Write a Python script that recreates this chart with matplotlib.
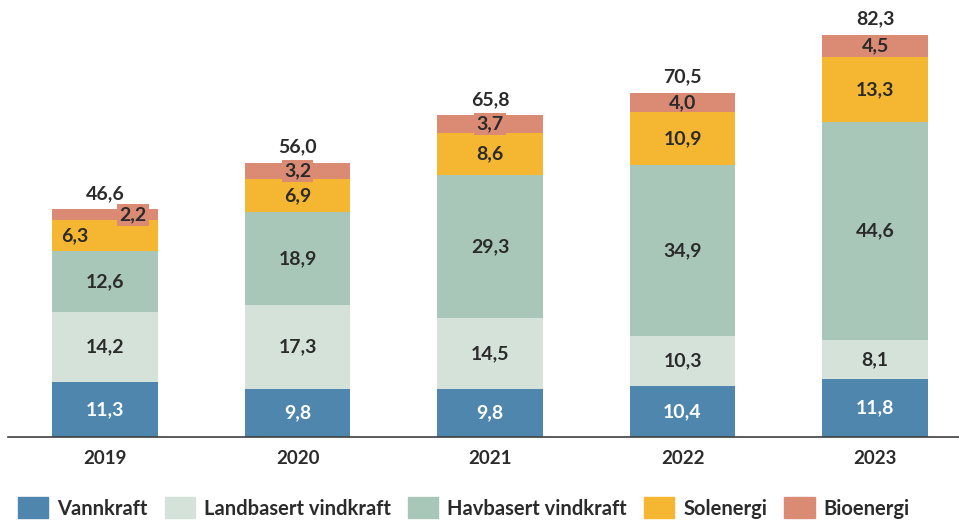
import numpy as np
from matplotlib import pyplot as plt
from matplotlib import patches as mpatches

plt.rcParams['font.family'] = ['Lato', 'DejaVu Sans']

years = ['2019', '2020', '2021', '2022', '2023']
vannkraft = [11.3, 9.8, 9.8, 10.4, 11.8]
landbasert = [14.2, 17.3, 14.5, 10.3, 8.1]
havbasert = [12.6, 18.9, 29.3, 34.9, 44.6]
solenergi = [6.3, 6.9, 8.6, 10.9, 13.3]
bioenergi = [2.2, 3.2, 3.7, 4.0, 4.5]
totals = [46.6, 56.0, 65.8, 70.5, 82.3]

names = ['Vannkraft', 'Landbasert vindkraft', 'Havbasert vindkraft', 'Solenergi', 'Bioenergi']
colors = ['#4F86AE', '#D5E2DA', '#A8C7B9', '#F5B631', '#DB8B74']
text_colors = ['white', '#2b2b2b', '#2b2b2b', '#2b2b2b', '#2b2b2b']
series = [vannkraft, landbasert, havbasert, solenergi, bioenergi]

def fmt(v):
    return ('%.1f' % v).replace('.', ',')

fig = plt.figure(figsize=(9.59, 5.21), dpi=100)
ax = fig.add_axes([0.0083, 0.1612, 0.9917, 0.797])

x = np.arange(len(years))
width = 0.55
bottom = np.zeros(len(years))
for k, vals in enumerate(series):
    vals = np.array(vals)
    ax.bar(x, vals, width, bottom=bottom, color=colors[k], linewidth=0)
    for i in range(len(years)):
        cy = bottom[i] + vals[i] / 2
        cx = x[i]
        box = None
        if k == 3 and i == 0:
            cx = x[i] - 0.155
        if k == 4 and i < 3:
            box = dict(boxstyle='square,pad=0.12', fc=colors[4], ec='none')
            if i == 0:
                cx = x[i] + 0.145
        ax.text(cx, cy, fmt(vals[i]), ha='center', va='center', fontsize=14,
                fontweight='bold', color=text_colors[k], bbox=box)
    bottom += vals

for i in range(len(years)):
    ax.text(x[i], bottom[i] + 1.5, fmt(totals[i]), ha='center', va='bottom',
            fontsize=14, fontweight='bold', color='#2b2b2b')

ax.set_xlim(-0.504, 4.436)
ax.set_ylim(0, 85)
ax.set_xticks(x)
ax.set_xticklabels(years, fontsize=13.5, fontweight='bold', color='#2b2b2b')
ax.tick_params(axis='x', length=0, pad=9)
ax.set_yticks([])
for s in ['top', 'right', 'left']:
    ax.spines[s].set_visible(False)
ax.spines['bottom'].set_color('#404040')
ax.spines['bottom'].set_linewidth(1.2)

handles = [mpatches.Patch(color=colors[k], label=names[k]) for k in range(5)]
leg = fig.legend(handles=handles, loc='lower left', bbox_to_anchor=(0.0, -0.03), ncol=5,
                 frameon=False, prop={'size': 14.5, 'weight': 'bold'},
                 handlelength=1.5, handleheight=1.2, handletextpad=0.45, columnspacing=0.85)
for t in leg.get_texts():
    t.set_color('#2b2b2b')

fig.savefig('out.png', dpi=100)
